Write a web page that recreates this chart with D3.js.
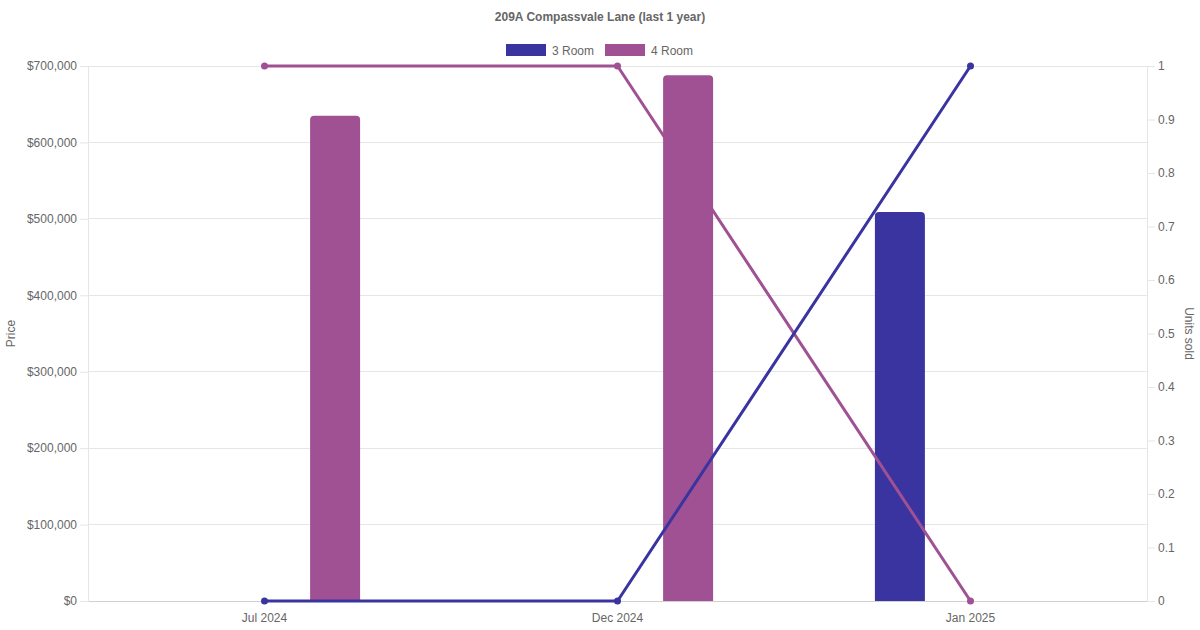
<!DOCTYPE html>
<html>
<head>
<meta charset="utf-8">
<script src="https://cdn.jsdelivr.net/npm/d3@7"></script>
<style>
  body { margin: 0; background: #fff; }
  svg text { font-family: "Liberation Sans", Arial, Helvetica, sans-serif; fill: #666; }
</style>
</head>
<body>
<div id="chart"></div>
<script>
// data
const months = ["Jul 2024", "Dec 2024", "Jan 2025"];
const series = ["3 Room", "4 Room"];
const colors = ["#3a34a1", "#a05193"];
const price3Room = [null, null, 509000];
const price4Room = [635000, 688000, null];
const units3Room = [0, 0, 1];
const units4Room = [1, 1, 0];
const priceTicks = [0, 100000, 200000, 300000, 400000, 500000, 600000, 700000];
const unitTicks = [0, 0.1, 0.2, 0.3, 0.4, 0.5, 0.6, 0.7, 0.8, 0.9, 1];

const W = 1200, H = 630;
const margin = { top: 66, right: 53, bottom: 29, left: 88 };
const width = W - margin.left - margin.right;
const height = H - margin.top - margin.bottom;

const svg = d3.select("#chart")
  .append("svg")
  .attr("width", W)
  .attr("height", H);

const g = svg.append("g")
  .attr("transform", `translate(${margin.left}, ${margin.top})`);

// scales
const x = d3.scaleBand().domain(months).range([0, width]);
const xSub = d3.scaleBand().domain(series)
  .range([x.bandwidth() * 0.1, x.bandwidth() * 0.9]);
const y = d3.scaleLinear().domain([0, 700000]).range([height, 0]);
const y2 = d3.scaleLinear().domain([0, 1]).range([height, 0]);

// grid lines from price axis
g.append("g")
  .selectAll("line")
  .data(priceTicks)
  .join("line")
  .attr("x1", 0).attr("x2", width)
  .attr("y1", d => y(d)).attr("y2", d => y(d))
  .attr("stroke", d => d === 0 ? "#d0d0d0" : "#e6e6e6")
  .attr("stroke-width", 1)
  .attr("shape-rendering", "crispEdges");

// left axis
const fmt = d => "$" + d3.format(",")(d);
const yAxis = g.append("g")
  .call(d3.axisLeft(y).tickValues(priceTicks).tickFormat(fmt).tickSize(8).tickPadding(3));
yAxis.select(".domain").attr("stroke", "#e6e6e6");
yAxis.selectAll(".tick line").attr("stroke", "#e6e6e6");
yAxis.selectAll("text").style("font-size", "12px").attr("fill", "#666");

// right axis
const y2Axis = g.append("g")
  .attr("transform", `translate(${width}, 0)`)
  .call(d3.axisRight(y2).tickValues(unitTicks).tickFormat(d3.format("~g")).tickSize(8).tickPadding(3));
y2Axis.select(".domain").attr("stroke", "#e6e6e6");
y2Axis.selectAll(".tick line").attr("stroke", "#e6e6e6");
y2Axis.selectAll("text").style("font-size", "12px").attr("fill", "#666");

// bottom axis labels
const xAxis = g.append("g")
  .attr("transform", `translate(0, ${height})`)
  .call(d3.axisBottom(x).tickSize(0).tickPadding(12));
xAxis.select(".domain").remove();
xAxis.selectAll("text").style("font-size", "12px").attr("fill", "#666");

const priceSeries = [price3Room, price4Room];
const unitSeries = [units3Room, units4Room];

const line = d3.line()
  .x((d, i) => x(months[i]) + x.bandwidth() / 2)
  .y(d => y2(d));

function drawLine(s) {
  const vals = unitSeries[s];
  g.append("path")
    .datum(vals)
    .attr("fill", "none")
    .attr("stroke", colors[s])
    .attr("stroke-width", 3)
    .attr("stroke-linejoin", "round")
    .attr("d", line);
  g.append("g")
    .selectAll("circle")
    .data(vals)
    .join("circle")
    .attr("cx", (d, i) => x(months[i]) + x.bandwidth() / 2)
    .attr("cy", d => y2(d))
    .attr("r", 3.5)
    .attr("fill", colors[s]);
}

const barW = 50, r = 4;
function barPath(cx, top, bottom) {
  const x0 = cx - barW / 2, x1 = cx + barW / 2;
  return `M${x0},${bottom}V${top + r}Q${x0},${top} ${x0 + r},${top}H${x1 - r}Q${x1},${top} ${x1},${top + r}V${bottom}Z`;
}
function drawBars(s) {
  g.append("g")
    .selectAll("path")
    .data(priceSeries[s].map((v, i) => ({ month: months[i], value: v })).filter(d => d.value != null))
    .join("path")
    .attr("d", d => barPath(x(d.month) + xSub(series[s]) + xSub.bandwidth() / 2, y(d.value), y(0)))
    .attr("fill", colors[s]);
}

// stacking order as in the reference
drawBars(0);
drawLine(1);
drawBars(1);
drawLine(0);

// axis titles
svg.append("text")
  .attr("transform", `translate(15, ${margin.top + height / 2}) rotate(-90)`)
  .attr("text-anchor", "middle")
  .style("font-size", "12px")
  .text("Price");
svg.append("text")
  .attr("transform", `translate(1185, ${margin.top + height / 2}) rotate(90)`)
  .attr("text-anchor", "middle")
  .style("font-size", "12px")
  .text("Units sold");

// title
svg.append("text")
  .attr("x", W / 2).attr("y", 21)
  .attr("text-anchor", "middle")
  .style("font-size", "12px")
  .style("font-weight", "bold")
  .text("209A Compassvale Lane (last 1 year)");

// legend
const legendX = [506, 605];
const legend = svg.append("g")
  .selectAll("g")
  .data(series)
  .join("g")
  .attr("transform", (d, i) => `translate(${legendX[i]}, 44)`);
legend.append("rect")
  .attr("width", 40).attr("height", 12)
  .attr("fill", (d, i) => colors[i]);
legend.append("text")
  .attr("x", 46).attr("y", 10.5)
  .style("font-size", "12px")
  .text(d => d);
</script>
</body>
</html>
